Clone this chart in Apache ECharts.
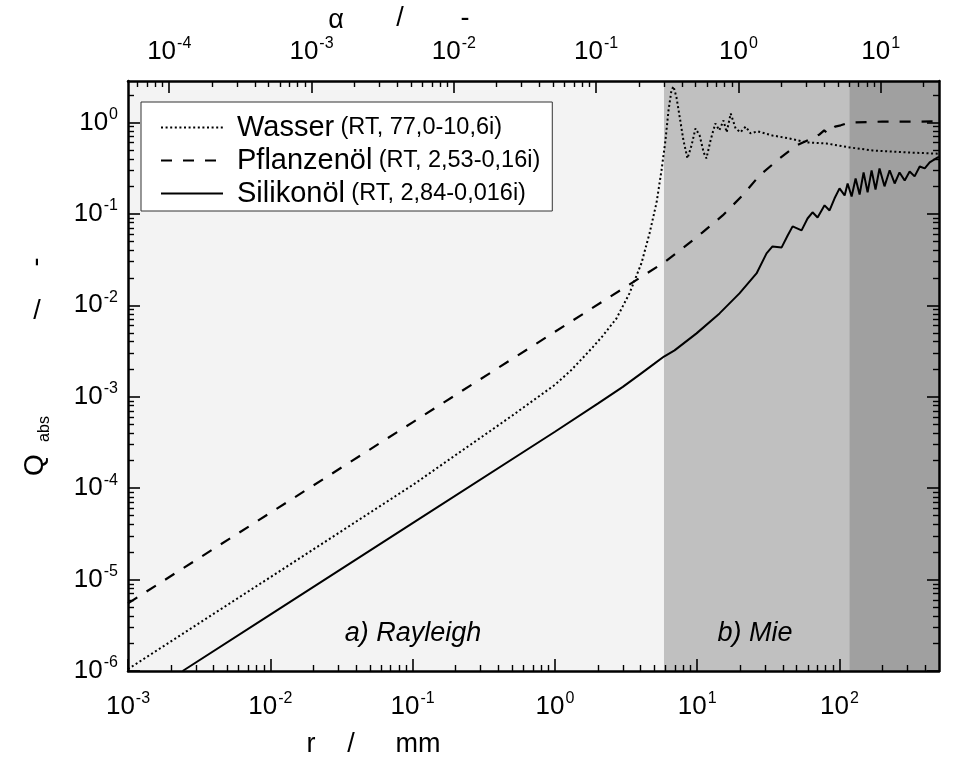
<!DOCTYPE html>
<html><head><meta charset="utf-8">
<script src="https://cdn.jsdelivr.net/npm/echarts@6/dist/echarts.min.js"></script>
<style>html,body{margin:0;padding:0;background:#fff}#c{width:962px;height:762px}</style>
</head><body><div id="c"></div>
<script>
// ---- data (r in mm, Q_abs dimensionless) ----
const rWasser = [0.001, 0.01, 0.1, 0.5, 1, 1.3, 1.84, 2.16, 2.71, 3.34, 3.63, 4.06, 4.62, 5.18, 5.61, 5.98, 6.28, 6.59, 6.81, 7.15, 7.5, 8.0, 8.54, 9.12, 9.72, 10.4, 11.1, 11.6, 12.4, 13.4, 14.3, 15.3, 16.1, 17.2, 18.6, 20.1, 21.9, 23.7, 26.6, 33.8, 44.6, 58.6, 81.1, 118, 171, 296, 500];
const qWasser = [1.05e-6, 1.06e-5, 1.08e-4, 6.2e-4, 1.35e-3, 1.95e-3, 3.46e-3, 4.6e-3, 7.2e-3, 0.0135, 0.0187, 0.029, 0.061, 0.133, 0.299, 0.635, 1.35, 2.24, 2.48, 1.88, 1.19, 0.636, 0.404, 0.56, 0.86, 0.72, 0.47, 0.404, 0.636, 0.975, 0.82, 1.05, 0.78, 1.25, 0.86, 0.78, 0.90, 0.76, 0.80, 0.72, 0.668, 0.604, 0.589, 0.533, 0.494, 0.47, 0.455];

const rPflanzen = [0.001, 0.01, 0.1, 1, 5.84, 7.88, 10.9, 15.1, 20.8, 27.4, 37.9, 49.9, 63.5, 72.4, 78, 82.4, 87, 93, 102, 118, 200, 350, 500];
const qPflanzen = [5.5e-6, 5.37e-5, 5.25e-4, 5.13e-3, 0.0294, 0.0419, 0.0627, 0.0962, 0.159, 0.263, 0.404, 0.56, 0.668, 0.74, 0.82, 0.76, 0.84, 0.90, 0.93, 1.0, 1.02, 1.02, 1.03];

const rSilikon = [0.00242, 0.01, 0.1, 1, 2, 3, 4, 5, 5.84, 6.93, 9.89, 14.35, 19.8, 26.1, 30.7, 33.8, 39.2, 43.2, 46.8, 54.1, 59.6, 64.6, 70.1, 78.5, 85.1, 92.3, 100, 108.6, 114, 121.6, 129.7, 138.4, 147.6, 157.5, 168, 179, 191, 207, 225, 244, 264, 287, 311, 337, 366, 397, 430, 490, 500];
const qSilikon = [1.0e-6, 4.14e-6, 4.14e-5, 4.14e-4, 8.4e-4, 1.28e-3, 1.78e-3, 2.3e-3, 2.75e-3, 3.21e-3, 4.93e-3, 8.15e-3, 0.0135, 0.0223, 0.037, 0.044, 0.043, 0.058, 0.073, 0.066, 0.089, 0.104, 0.0914, 0.124, 0.109, 0.148, 0.19, 0.159, 0.215, 0.155, 0.244, 0.163, 0.284, 0.172, 0.299, 0.185, 0.314, 0.20, 0.30, 0.215, 0.284, 0.232, 0.291, 0.257, 0.33, 0.314, 0.365, 0.414, 0.42];

const seriesNames = ['Wasser', 'Pflanzenöl', 'Silikonöl'];
const seriesNotes = ['(RT, 77,0-10,6i)', '(RT, 2,53-0,16i)', '(RT, 2,84-0,016i)'];

const rRange = [0.001, 500];          // bottom axis r / mm
const qRange = [1e-6, 2.84];          // Q_abs
const lambdaMM = 122.4;               // wavelength for alpha = 2*pi*r/lambda
const regionBounds = [0.001, 5.84, 117, 500];
const regionLabels = ['a) Rayleigh', 'b) Mie'];

// ---- helpers ----
const L = Math.log10;
const FONT = 'Liberation Sans, Arial, Helvetica, sans-serif';
const xMin = L(rRange[0]), xMax = L(rRange[1]);
const yMin = L(qRange[0]), yMax = L(qRange[1]);
const aOff = L(2 * Math.PI / lambdaMM);
function majors(min, max) { const o = []; for (let n = Math.ceil(min - 1e-9); n <= max + 1e-9; n++) o.push(n); return o; }
function minors(min, max) { const o = []; for (let n = Math.floor(min) - 1; n <= Math.ceil(max); n++) for (let k = 2; k <= 9; k++) { const v = n + L(k); if (v > min + 1e-9 && v < max - 1e-9) o.push(v); } return o; }
const toXY = (rs, qs) => rs.map((r, i) => [L(r), L(qs[i])]);
const sup = v => '{b|10}{e|' + Math.round(v) + '}';
const rich = {
  b: { fontSize: 26, fontFamily: FONT, color: '#000', lineHeight: 32 },
  e: { fontSize: 16, fontFamily: FONT, color: '#000', verticalAlign: 'top', padding: [0, 0, 0, 1] }
};

function axisPair(position, min, max, labels, labelMargin) {
  const base = {
    type: 'value', position, min, max, z: 10, scale: false,
    splitLine: { show: false }, axisPointer: { show: false }
  };
  const maj = Object.assign({}, base, {
    axisLine: { show: true, onZero: false, lineStyle: { color: '#000', width: 2.5 } },
    axisTick: { show: true, inside: true, length: 12, customValues: majors(min, max), lineStyle: { color: '#000', width: 1.6 } },
    axisLabel: { show: labels, customValues: majors(min, max), formatter: sup, margin: labelMargin, rich }
  });
  const mnr = Object.assign({}, base, {
    axisLine: { show: false, onZero: false },
    axisTick: { show: true, inside: true, length: 6, customValues: minors(min, max), lineStyle: { color: '#000', width: 1.4 } },
    axisLabel: { show: false }
  });
  return [maj, mnr];
}

const xAxes = [].concat(
  axisPair('bottom', xMin, xMax, true, 20),
  axisPair('top', xMin + aOff, xMax + aOff, true, 13)
);
const yAxes = [].concat(
  axisPair('left', yMin, yMax, true, 10),
  axisPair('right', yMin, yMax, false, 10)
);

const regionColors = ['#f3f3f3', '#c0c0c0', '#a0a0a0'];
const areaData = [];
for (let i = 0; i < regionBounds.length - 1; i++) {
  areaData.push([{ xAxis: L(regionBounds[i]), itemStyle: { color: regionColors[i] } }, { xAxis: L(regionBounds[i + 1]) }]);
}

const styles = [
  { color: '#000', width: 2, type: [2, 2.6] },
  { color: '#000', width: 2.2, type: [11, 11] },
  { color: '#000', width: 2, type: 'solid' }
];
const datasets = [toXY(rWasser, qWasser), toXY(rPflanzen, qPflanzen), toXY(rSilikon, qSilikon)];

const series = [{
  type: 'line', name: 'regions', data: [], z: 1, silent: true,
  markArea: { silent: true, data: areaData, label: { show: false } }
}].concat(seriesNames.map((n, i) => ({
  type: 'line', name: n, data: datasets[i], xAxisIndex: 0, yAxisIndex: 0,
  symbol: 'none', showSymbol: false, z: 4 + i, clip: true, smooth: false,
  lineStyle: styles[i], itemStyle: { color: '#000' }
})));

const txt = (t, x, y, size, extra) => ({
  type: 'text', x, y, z: 100, silent: true, rotation: (extra && extra.rot) || 0,
  style: Object.assign({ text: t, font: ((extra && extra.italic) ? 'italic ' : '') + size + 'px ' + FONT, fill: '#000',
    align: 'center', verticalAlign: 'middle', textAlign: 'center', textVerticalAlign: 'middle' })
});

const chart = echarts.init(document.getElementById('c'), null, { renderer: 'canvas' });
chart.setOption({
  backgroundColor: '#fff',
  animation: false,
  grid: { left: 128, top: 81, width: 811, height: 590, containLabel: false, show: false },
  xAxis: xAxes,
  yAxis: yAxes,
  legend: {
    show: true, orient: 'vertical', left: 141, top: 102,
    data: seriesNames, backgroundColor: '#fff', borderColor: '#333', borderWidth: 1, borderRadius: 0,
    padding: [11, 12, 3, 19], itemGap: 4, itemWidth: 62, itemHeight: 20, selectedMode: false,
    itemStyle: { color: 'rgba(0,0,0,0)', borderWidth: 0, opacity: 0 },
    formatter: name => '{n|' + name + '} {p|' + seriesNotes[seriesNames.indexOf(name)] + '}',
    textStyle: { rich: {
      n: { fontSize: 29, fontFamily: FONT, color: '#000', lineHeight: 29, padding: [0, 0, 0, 9] },
      p: { fontSize: 23.5, fontFamily: FONT, color: '#000', lineHeight: 29, padding: [0, 0, 0, 3] }
    } }
  },
  series,
  graphic: [
    txt(regionLabels[0], 413, 633, 27, { italic: true }),
    txt(regionLabels[1], 755, 633, 27, { italic: true }),
    txt('r', 311, 745, 27), txt('/', 351, 745, 27), txt('mm', 418, 745, 27),
    txt('α', 336, 21, 27), txt('/', 400, 19, 27), txt('-', 465, 19, 27),
    txt('Q', 35, 465, 28, { rot: Math.PI / 2 }), txt('abs', 45, 429, 16, { rot: Math.PI / 2 }),
    txt('/', 37, 312, 27), txt('-', 37, 262, 27, { rot: Math.PI / 2 })
  ]
});
</script></body></html>
